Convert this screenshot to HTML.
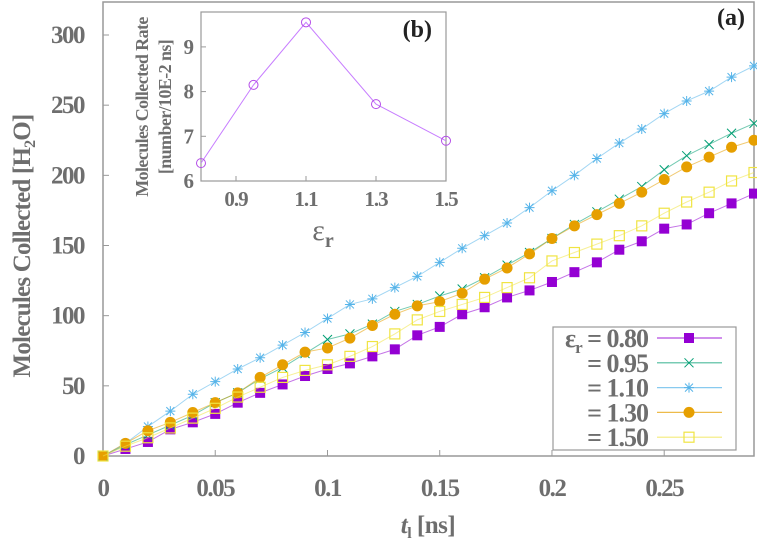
<!DOCTYPE html>
<html><head><meta charset="utf-8"><style>
body{margin:0;background:#fff}
svg{display:block;font-family:"Liberation Serif",serif;font-weight:bold}
</style></head><body>
<svg id="c" width="757" height="541" xmlns="http://www.w3.org/2000/svg"></svg>
<script>
const tValues=[0,0.01,0.02,0.03,0.04,0.05,0.06,0.07,0.08,0.09,0.10,0.11,0.12,0.13,0.14,0.15,0.16,0.17,0.18,0.19,0.20,0.21,0.22,0.23,0.24,0.25,0.26,0.27,0.28,0.29];
const s080=[0,5,10,19,24,30,38,45,51,57,62,66,71,76,86,92,101,106,113,118,124,131,138,147,153,162,165,173,180,187];
const s095=[0,8,15,22,29,38,45,55,63,73,83,87,94,103,108,114,119,127,136,145,155,165,174,183,192,204,214,222,230,237];
const s110=[0,9,21,32,44,53,62,70,79,88,98,108,112,120,128,138,148,157,166,177,189,200,212,223,233,244,253,260,270,278];
const s130=[0,9,18,24,31,38,45,56,65,74,77,84,93,101,107,110,116,126,134,144,155,164,172,180,188,197,206,213,220,225];
const s150=[0,7,13,20,27,34,42,49,56,61,65,71,78,87,97,103,108,113,120,127,139,145,151,157,164,173,181,188,196,202];
const legendLabels=["= 0.80","= 0.95","= 1.10","= 1.30","= 1.50"];
const xTicks=[0,0.05,0.1,0.15,0.2,0.25];
const xTickLabels=["0","0.05","0.1","0.15","0.2","0.25"];
const yTicks=[0,50,100,150,200,250,300];
const insetX=[0.8,0.95,1.1,1.3,1.5];
const insetY=[6.4,8.15,9.55,7.72,6.9];
const insetXTicks=[0.9,1.1,1.3,1.5];
const insetYTicks=[6,7,8,9];

const NS="http://www.w3.org/2000/svg";
const svg=document.getElementById('c');
function el(tag,attrs,parent,text){const e=document.createElementNS(NS,tag);for(const k in attrs)e.setAttribute(k,attrs[k]);if(text!==undefined)e.textContent=text;(parent||svg).appendChild(e);return e;}
const X0=103,X1=754,Y0=456,Y1=2;
const xs=v=>X0+v/0.29*(X1-X0);
const ys=v=>Y0-v*(456-35)/300;
const gray="#6e6e6e";
let f=el('rect',{x:X0,y:Y1,width:X1-X0,height:Y0-Y1,fill:'none',stroke:'#999','stroke-width':1.5});

xTicks.forEach((v,i)=>{
  let t=el('line',{x1:xs(v),x2:xs(v),y1:Y0,y2:Y0-6,stroke:'#999'});
  
  let l=el('text',{x:xs(v),y:496,'text-anchor':'middle','font-size':25,'letter-spacing':-1.5,fill:gray},null,xTickLabels[i]);
  
});
yTicks.forEach(v=>{
  let t=el('line',{x1:X0,x2:X0+6,y1:ys(v),y2:ys(v),stroke:'#999'});
  
  let l=el('text',{x:84,y:ys(v)+8,'text-anchor':'end','font-size':25,'letter-spacing':-1.5,fill:gray},null,String(v));
  
});
let xt=el('text',{x:428,y:533,'text-anchor':'middle','font-size':25,fill:gray,'letter-spacing':-0.5});

xt.innerHTML='<tspan font-style="italic">t</tspan><tspan font-size="16" dy="5">l</tspan><tspan dy="-5"> [ns]</tspan>';
let yt=el('text',{x:0,y:0,'text-anchor':'middle','font-size':25,fill:gray,'letter-spacing':-0.8,transform:'translate(30,246) rotate(-90)'});

yt.innerHTML='Molecules Collected [H<tspan font-size="16" dy="5">2</tspan><tspan dy="-5">O]</tspan>';
let pa=el('text',{x:745,y:25,'text-anchor':'end','font-size':24,fill:'#222'},null,'(a)');


function marker(type,x,y,c,g){
  if(type==='sq')return el('rect',{x:x-5,y:y-5,width:10,height:10,fill:c},g);
  if(type==='osq')return el('rect',{x:x-5,y:y-5,width:10,height:10,fill:'none',stroke:c,'stroke-width':1.2},g);
  if(type==='ci')return el('circle',{cx:x,cy:y,r:5.5,fill:c},g);
  if(type==='x')return el('path',{d:`M${x-4.5},${y-4.5}L${x+4.5},${y+4.5}M${x-4.5},${y+4.5}L${x+4.5},${y-4.5}`,stroke:c,'stroke-width':1},g);
  if(type==='st')return el('path',{d:`M${x-4},${y-4}L${x+4},${y+4}M${x-4},${y+4}L${x+4},${y-4}M${x},${y-5}L${x},${y+5}M${x-5},${y}L${x+5},${y}`,stroke:c,'stroke-width':1},g);
}
const series=[
 {d:s080,c:'#9400d3',m:'sq',name:'series-0-80'},
 {d:s095,c:'#009e73',m:'x',name:'series-0-95'},
 {d:s110,c:'#56b4e9',m:'st',name:'series-1-10'},
 {d:s130,c:'#e69f00',m:'ci',name:'series-1-30'},
 {d:s150,c:'#f0e442',m:'osq',name:'series-1-50'}];
const clip=el('clipPath',{id:'cp'});el('rect',{x:X0-6,y:Y1,width:X1-X0+12,height:Y0-Y1+6},clip);
series.forEach(s=>{
  const g=el('g',{'clip-path':'url(#cp)'});
  
  const pts=s.d.map((v,i)=>xs(tValues[i])+','+ys(v)).join(' ');
  el('polyline',{points:pts,fill:'none',stroke:s.c,'stroke-width':1,opacity:0.55},g);
  s.d.forEach((v,i)=>{const m=marker(s.m,xs(tValues[i]),ys(v),s.c,g);});
});
const lg=el('g',{});
el('rect',{x:553,y:327,width:183,height:123,fill:'#fff',stroke:'#999','stroke-width':1.2},lg);
series.forEach((s,i)=>{
  const y=338+i*24.8;
  const e=el('g',{},lg);
  const t=el('text',{x:648,y:y+9,'text-anchor':'end','font-size':26,'letter-spacing':-1,fill:gray},e,legendLabels[i]);
  if(i===0){t.textContent='';t.innerHTML='ε<tspan font-size="17" dy="6">r</tspan><tspan dy="-6"> '+legendLabels[0]+'</tspan>';}
  el('line',{x1:657,x2:722,y1:y,y2:y,stroke:s.c,'stroke-width':1.2,opacity:0.7},e);
  marker(s.m,689,y,s.c,e);
});
const IX0=201,IX1=446,IY0=181,IY1=12;
const ixs=v=>IX0+(v-0.8)/0.7*(IX1-IX0);
const iys=v=>IY0-(v-6)*44.7;
const ig=el('g',{});
el('rect',{x:IX0,y:IY1,width:IX1-IX0,height:IY0-IY1,fill:'#fff',stroke:'#999','stroke-width':1.2},ig);
insetXTicks.forEach(v=>{
  el('line',{x1:ixs(v),x2:ixs(v),y1:IY0,y2:IY0-5,stroke:'#999'},ig);
  const l=el('text',{x:ixs(v),y:206,'text-anchor':'middle','font-size':21,'letter-spacing':-1,fill:gray},ig,v.toFixed(1));
  
});
insetYTicks.forEach(v=>{
  el('line',{x1:IX0,x2:IX0+5,y1:iys(v),y2:iys(v),stroke:'#999'},ig);
  const l=el('text',{x:194,y:iys(v)+7,'text-anchor':'end','font-size':21,fill:gray},ig,String(v));
  
});
const ip=el('polyline',{points:insetX.map((v,i)=>ixs(v)+','+iys(insetY[i])).join(' '),fill:'none',stroke:'#c77dff','stroke-width':1},ig);

insetX.forEach((v,i)=>{const c=el('circle',{cx:ixs(v),cy:iys(insetY[i]),r:4.5,fill:'none',stroke:'#b44ce8','stroke-width':1},ig);});
const ixt=el('text',{x:323,y:240,'text-anchor':'middle','font-size':30,fill:gray,'font-weight':'normal'},ig);

ixt.innerHTML='ε<tspan font-size="20" dy="7" font-weight="bold">r</tspan>';
const iyt=el('text',{'text-anchor':'middle','font-size':18,'letter-spacing':-0.6,fill:gray},ig);

iyt.innerHTML='<tspan x="0" y="0">Molecules Collected Rate</tspan><tspan x="0" y="23">[number/10E-2 ns]</tspan>';
iyt.setAttribute('transform','translate(148,107) rotate(-90)');
const pb=el('text',{x:432,y:37,'text-anchor':'end','font-size':24,fill:'#222'},ig,'(b)');

</script>
</body></html>
